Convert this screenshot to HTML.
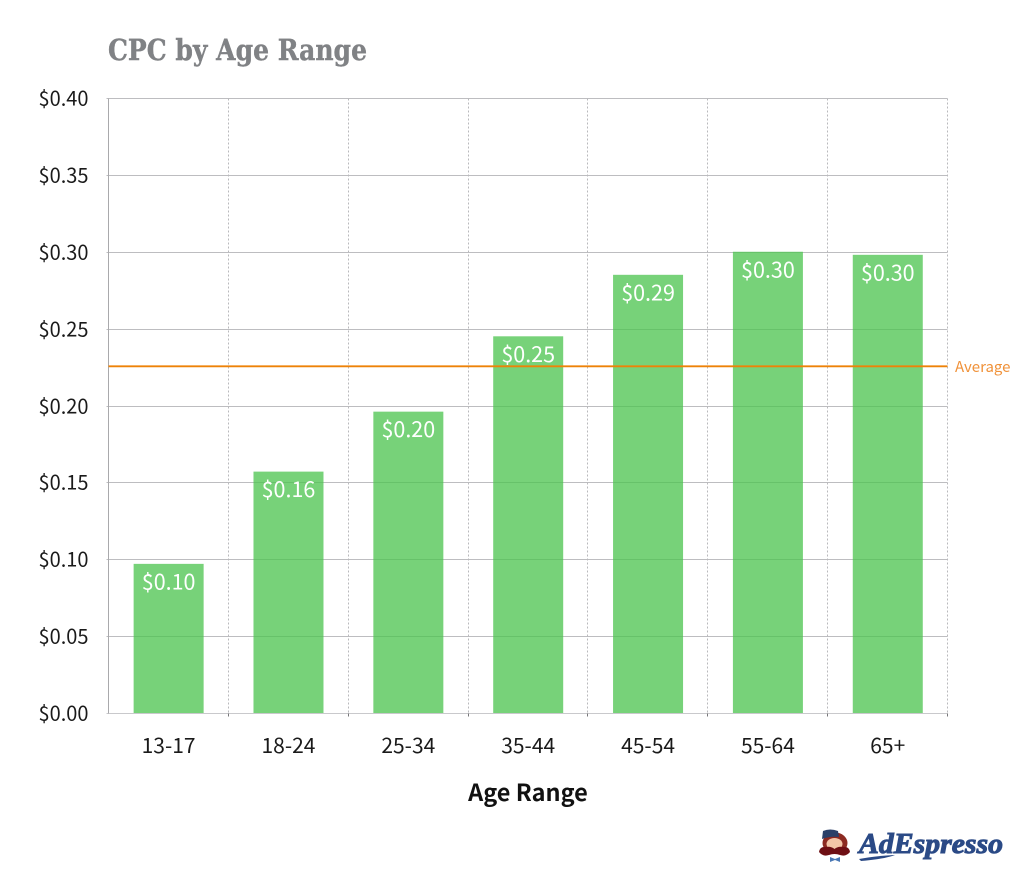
<!DOCTYPE html>
<html lang="en">
<head>
<meta charset="utf-8">
<title>CPC by Age Range</title>
<style>
html,body{margin:0;padding:0;background:#fff;}
#stage{position:relative;width:1024px;height:874px;overflow:hidden;background:#fff;}
svg{position:absolute;left:0;top:0;display:block;}
.sans{font-family:"Noto Sans CJK JP","Liberation Sans",sans-serif;}
</style>
</head>
<body>
<div id="stage">
<svg id="chart" width="1024" height="874" viewBox="0 0 1024 874">
  <text x="108" y="60" font-family="'DejaVu Serif','Liberation Serif',serif" font-weight="700" font-size="28.5" fill="#808285" stroke="#808285" stroke-width="0.4" textLength="259" lengthAdjust="spacingAndGlyphs">CPC by Age Range</text>
  <g id="grid"></g>
  <g id="bars"></g>
  <g id="avg"></g>
  <g id="labels"></g>
  <text class="sans" x="528" y="801" text-anchor="middle" font-size="23.5" font-weight="700" fill="#111">Age Range</text>
  <g>
    <g>
      <ellipse cx="835" cy="843" rx="12.5" ry="10.5" fill="#8c2a22"/>
      <path d="M822 839 L823 831 Q830 828 838 831 L839 837 Q830 836 822 839 Z" fill="#2a4068"/>
      <ellipse cx="834.5" cy="844" rx="8" ry="6" fill="#f3c6a8"/>
      <path d="M819 852 Q820 846 826 847 Q831 846 834.5 849 Q838 846 843 847 Q849 846 850 852 Q846 857 840 855 Q834.5 853 829 855 Q823 857 819 852 Z" fill="#6e0f14"/>
      <path d="M830 857 L835 859 L840 857 L840 862 L835 860 L830 862 Z" fill="#4a78b5"/>
    </g>
    <text x="859" y="853" font-family="'Liberation Serif',serif" font-style="italic" font-weight="700" font-size="29" fill="#2b4a86" stroke="#2b4a86" stroke-width="1" textLength="144" lengthAdjust="spacingAndGlyphs">AdEspresso</text>
    <path d="M859 859 Q875 856 895 855 Q885 859 861 861 Z" fill="#2b4a86"/>
  </g>
</svg>
</div>
<script>
const categories = ['13-17', '18-24', '25-34', '35-44', '45-54', '55-64', '65+'];
const cpcValues = [0.097, 0.157, 0.196, 0.245, 0.285, 0.300, 0.298];
const valueLabels = ['$0.10', '$0.16', '$0.20', '$0.25', '$0.29', '$0.30', '$0.30'];
const yTicks = [0, 0.05, 0.10, 0.15, 0.20, 0.25, 0.30, 0.35, 0.40];
const yTickLabels = ['$0.00', '$0.05', '$0.10', '$0.15', '$0.20', '$0.25', '$0.30', '$0.35', '$0.40'];
const averageValue = 0.2255;
const averageLabel = 'Average';

const NS = 'http://www.w3.org/2000/svg';
const plotLeft = 108.5, plotRight = 947.5, plotTop = 98.5, plotBottom = 713.5, yMax = 0.40;
const band = (plotRight - plotLeft) / categories.length;
function yScale(v) { return plotBottom - (v / yMax) * (plotBottom - plotTop); }
function xBand(i) { return plotLeft + band * i; }
function xCenter(i) { return xBand(i) + band / 2 + 0.2; }
function make(tag, attrs, parent, text) {
  const el = document.createElementNS(NS, tag);
  for (const k in attrs) el.setAttribute(k, attrs[k]);
  if (text !== undefined) el.textContent = text;
  parent.appendChild(el);
  return el;
}
const grid = document.getElementById('grid');
const bars = document.getElementById('bars');
const avg = document.getElementById('avg');
const labels = document.getElementById('labels');

yTicks.forEach(function (t, i) {
  const y = Math.round(yScale(t) - 0.5) + 0.5;
  const line = make('line', {x1: plotLeft - 2, x2: plotRight, y1: y, y2: y, stroke: i === 0 ? '#c9c9cc' : '#bdbdc0', 'stroke-width': 1}, grid);
  
  
  const lab = make('text', {x: 88.5, y: y + 7, 'text-anchor': 'end', 'font-size': 20, fill: '#1a1a1a', class: 'sans'}, grid, yTickLabels[i]);
  
  
});
for (let i = 1; i <= categories.length; i++) {
  const x = Math.round(xBand(i) - 0.5) + 0.5;
  const line = make('line', {x1: x, x2: x, y1: plotTop, y2: plotBottom, stroke: '#b9b9bc', 'stroke-width': 1, 'stroke-dasharray': '2 2'}, grid);
  
  
  const tick = make('line', {x1: x, x2: x, y1: plotBottom, y2: plotBottom + 3, stroke: '#77777a', 'stroke-width': 1}, grid);
  
  
}
const yAxis = make('line', {x1: plotLeft, x2: plotLeft, y1: plotTop, y2: plotBottom, stroke: '#a9a9ac', 'stroke-width': 1}, grid);



categories.forEach(function (c, i) {
  const top = yScale(cpcValues[i]) - 0.5;
  const cx = xCenter(i);
  const bar = make('rect', {x: cx - 35, y: top, width: 70, height: plotBottom - 0.5 - top, fill: '#4cc44f', 'fill-opacity': 0.76}, bars);
  
  
  const val = make('text', {x: cx, y: top + 25.5, 'text-anchor': 'middle', 'font-size': 21.5, fill: '#fff', class: 'sans'}, labels, valueLabels[i]);
  
  
  const cat = make('text', {x: cx, y: 753, 'text-anchor': 'middle', 'font-size': 21, fill: '#1a1a1a', class: 'sans'}, labels, c);
  
  
});

const avgY = yScale(averageValue) - 0.5;
const avgLine = make('line', {x1: plotLeft, x2: plotRight, y1: avgY, y2: avgY, stroke: '#ee8208', 'stroke-width': 1.8}, avg);


const avgText = make('text', {x: 955, y: avgY + 5.5, 'font-size': 15, fill: '#f0923a', class: 'sans'}, avg, averageLabel);


</script>
</body>
</html>
